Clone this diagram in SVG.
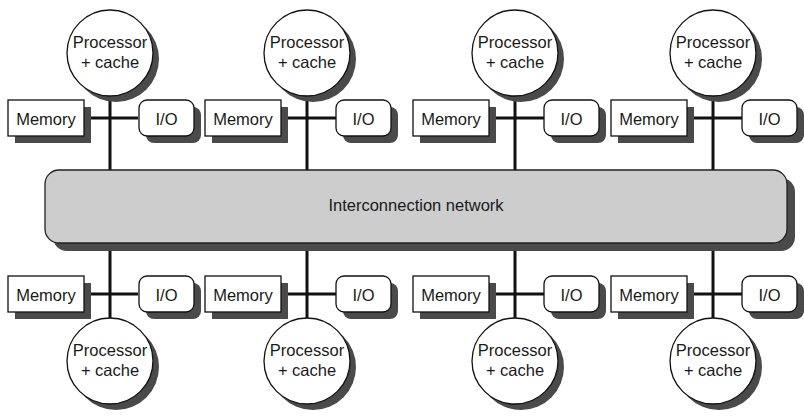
<svg xmlns="http://www.w3.org/2000/svg" width="804" height="416" viewBox="0 0 804 416">
<defs>
<style>
.sh{fill:#4a4a4a}
.proc{fill:#fff;stroke:#111;stroke-width:1.3}
.mem{fill:#fff;stroke:#111;stroke-width:1.3}
.net{fill:#cdcdcd;stroke:#222;stroke-width:1.3}
.wire{stroke:#111;stroke-width:3;fill:none}
text{font-family:"Liberation Sans",Arial,sans-serif;font-size:16.5px;fill:#1a1a1a;text-anchor:middle}
</style>
<g id="procT">
<circle class="sh" cx="6" cy="6" r="43"/>
<circle class="proc" cx="0" cy="0" r="43"/>
<text x="0" y="-5">Processor</text>
<text x="0" y="15">+ cache</text>
</g>
<g id="memT">
<rect class="sh" x="-95" y="7" width="76" height="36"/>
<rect class="mem" x="-102" y="0" width="76" height="36"/>
<text x="-64" y="24.5">Memory</text>
</g>
<g id="ioT">
<rect class="sh" x="36" y="7" width="55" height="36" rx="8"/>
<rect class="mem" x="29" y="0" width="55" height="36" rx="8"/>
<text x="56.5" y="24.5">I/O</text>
</g>
</defs>
<rect width="804" height="416" fill="#fff"/>

<g id="connectors">
<line class="wire" x1="110" y1="95" x2="110" y2="171"/>
<line class="wire" x1="83" y1="118" x2="138" y2="118"/>
<line class="wire" x1="307" y1="95" x2="307" y2="171"/>
<line class="wire" x1="281" y1="118" x2="336" y2="118"/>
<line class="wire" x1="515" y1="95" x2="515" y2="171"/>
<line class="wire" x1="489" y1="118" x2="544" y2="118"/>
<line class="wire" x1="713" y1="95" x2="713" y2="171"/>
<line class="wire" x1="687" y1="118" x2="742" y2="118"/>
<line class="wire" x1="110" y1="243" x2="110" y2="319"/>
<line class="wire" x1="83" y1="294" x2="138" y2="294"/>
<line class="wire" x1="307" y1="243" x2="307" y2="319"/>
<line class="wire" x1="281" y1="294" x2="336" y2="294"/>
<line class="wire" x1="515" y1="243" x2="515" y2="319"/>
<line class="wire" x1="489" y1="294" x2="544" y2="294"/>
<line class="wire" x1="713" y1="243" x2="713" y2="319"/>
<line class="wire" x1="687" y1="294" x2="742" y2="294"/>
</g>

<g id="network">
<rect class="sh" x="53" y="178" width="742" height="73" rx="14"/>
<rect class="net" x="45" y="170" width="742" height="73" rx="14"/>
<text x="416" y="211">Interconnection network</text>
</g>

<g id="proc-t1"><use href="#procT" x="110" y="53"/></g>
<g id="proc-t2"><use href="#procT" x="307" y="53"/></g>
<g id="proc-t3"><use href="#procT" x="515" y="53"/></g>
<g id="proc-t4"><use href="#procT" x="713" y="53"/></g>
<g id="mem-t1"><use href="#memT" x="110" y="100"/></g>
<g id="mem-t2"><use href="#memT" x="307" y="100"/></g>
<g id="mem-t3"><use href="#memT" x="515" y="100"/></g>
<g id="mem-t4"><use href="#memT" x="713" y="100"/></g>
<g id="io-t1"><use href="#ioT" x="110" y="100"/></g>
<g id="io-t2"><use href="#ioT" x="307" y="100"/></g>
<g id="io-t3"><use href="#ioT" x="515" y="100"/></g>
<g id="io-t4"><use href="#ioT" x="713" y="100"/></g>

<g id="mem-b1"><use href="#memT" x="110" y="276"/></g>
<g id="mem-b2"><use href="#memT" x="307" y="276"/></g>
<g id="mem-b3"><use href="#memT" x="515" y="276"/></g>
<g id="mem-b4"><use href="#memT" x="713" y="276"/></g>
<g id="io-b1"><use href="#ioT" x="110" y="276"/></g>
<g id="io-b2"><use href="#ioT" x="307" y="276"/></g>
<g id="io-b3"><use href="#ioT" x="515" y="276"/></g>
<g id="io-b4"><use href="#ioT" x="713" y="276"/></g>
<g id="proc-b1"><use href="#procT" x="110" y="361"/></g>
<g id="proc-b2"><use href="#procT" x="307" y="361"/></g>
<g id="proc-b3"><use href="#procT" x="515" y="361"/></g>
<g id="proc-b4"><use href="#procT" x="713" y="361"/></g>
</svg>
